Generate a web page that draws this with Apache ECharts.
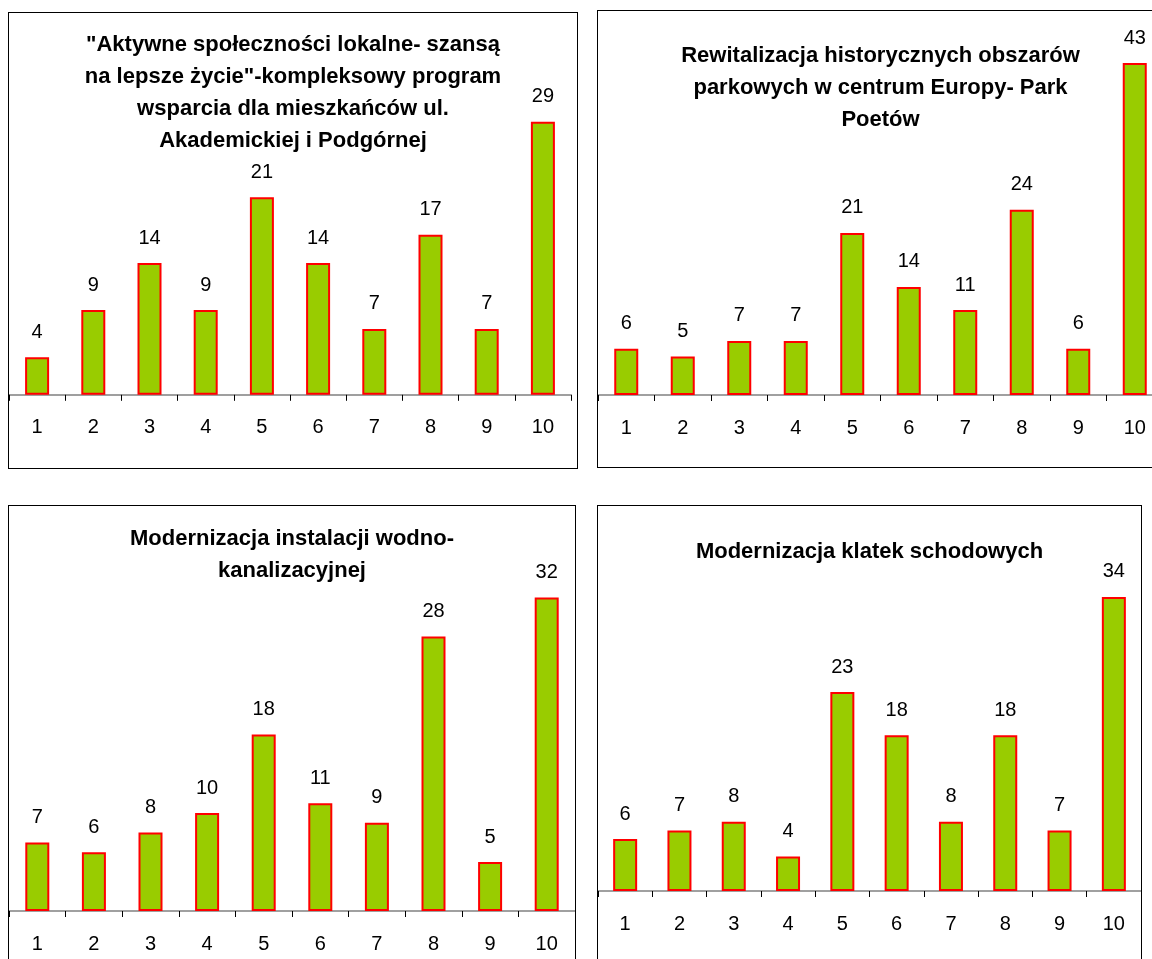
<!DOCTYPE html>
<html>
<head>
<meta charset="utf-8">
<script src="https://cdn.jsdelivr.net/npm/echarts@6/dist/echarts.min.js"></script>
<style>
html,body{margin:0;padding:0;background:#fff;overflow:hidden;width:1152px;height:959px;}
.panel{position:absolute;box-sizing:border-box;border:1px solid #000;background:#fff;}
</style>
</head>
<body>
<div id="p1" class="panel" style="left:8px;top:12px;width:570px;height:457px;"></div>
<div id="p2" class="panel" style="left:597px;top:10px;width:567px;height:458px;"></div>
<div id="p3" class="panel" style="left:8px;top:505px;width:568px;height:480px;"></div>
<div id="p4" class="panel" style="left:597px;top:505px;width:545px;height:480px;"></div>
<script>
var categories = ['1','2','3','4','5','6','7','8','9','10'];
// oceny projektow
var aktywneValues = [4, 9, 14, 9, 21, 14, 7, 17, 7, 29];
var rewitalizacjaValues = [6, 5, 7, 7, 21, 14, 11, 24, 6, 43];
var wodKanValues = [7, 6, 8, 10, 18, 11, 9, 28, 5, 32];
var klatkiValues = [6, 7, 8, 4, 23, 18, 8, 18, 7, 34];

var titles = [
	'"Aktywne społeczności lokalne- szansą\nna lepsze życie"-kompleksowy program\nwsparcia dla mieszkańców ul.\nAkademickiej i Podgórnej',
	'Rewitalizacja historycznych obszarów\nparkowych w centrum Europy- Park\nPoetów',
	'Modernizacja instalacji wodno-\nkanalizacyjnej',
	'Modernizacja klatek schodowych'
];

var font = '"Liberation Sans", Arial, sans-serif';

function makeChart(id, title, titleTop, values, max, grid){
	var chart = echarts.init(document.getElementById(id));
	var option = {
		animation: false,
		title: {
			text: title,
			left: 'center',
			top: titleTop,
			textStyle: {
				fontFamily: font,
				fontSize: 22,
				fontWeight: 'bold',
				color: '#000',
				lineHeight: 32
			}
		},
		grid: grid,
		xAxis: {
			type: 'category',
			data: categories,
			axisLine: {lineStyle: {color: '#808080', width: 1.5}},
			axisTick: {show: true, length: 6, interval: 0, lineStyle: {color: '#000'}},
			axisLabel: {color: '#000', fontFamily: font, fontSize: 20, margin: 23, interval: 0}
		},
		yAxis: {
			type: 'value',
			min: 0,
			max: max,
			show: false,
			splitLine: {show: false}
		},
		series: [{
			type: 'bar',
			data: values,
			barWidth: 24,
			itemStyle: {color: '#99CC00', borderColor: '#FF0000', borderWidth: 2},
			label: {
				show: true,
				position: 'top',
				distance: 15,
				color: '#000',
				fontFamily: font,
				fontSize: 20
			}
		}]
	};
	chart.setOption(option);
	return chart;
}

makeChart('p1', titles[0], 11, aktywneValues, 35, {left: 0, top: 52.4, width: 562, height: 329.4});
makeChart('p2', titles[1], 24, rewitalizacjaValues, 45, {left: 0, top: 36.6, width: 566, height: 347.4});
makeChart('p3', titles[2], 12, wodKanValues, 35, {left: 0, top: 62, width: 567, height: 343});
makeChart('p4', titles[3], 25, klatkiValues, 40, {left: 0, top: 39, width: 547, height: 346});
</script>
</body>
</html>
